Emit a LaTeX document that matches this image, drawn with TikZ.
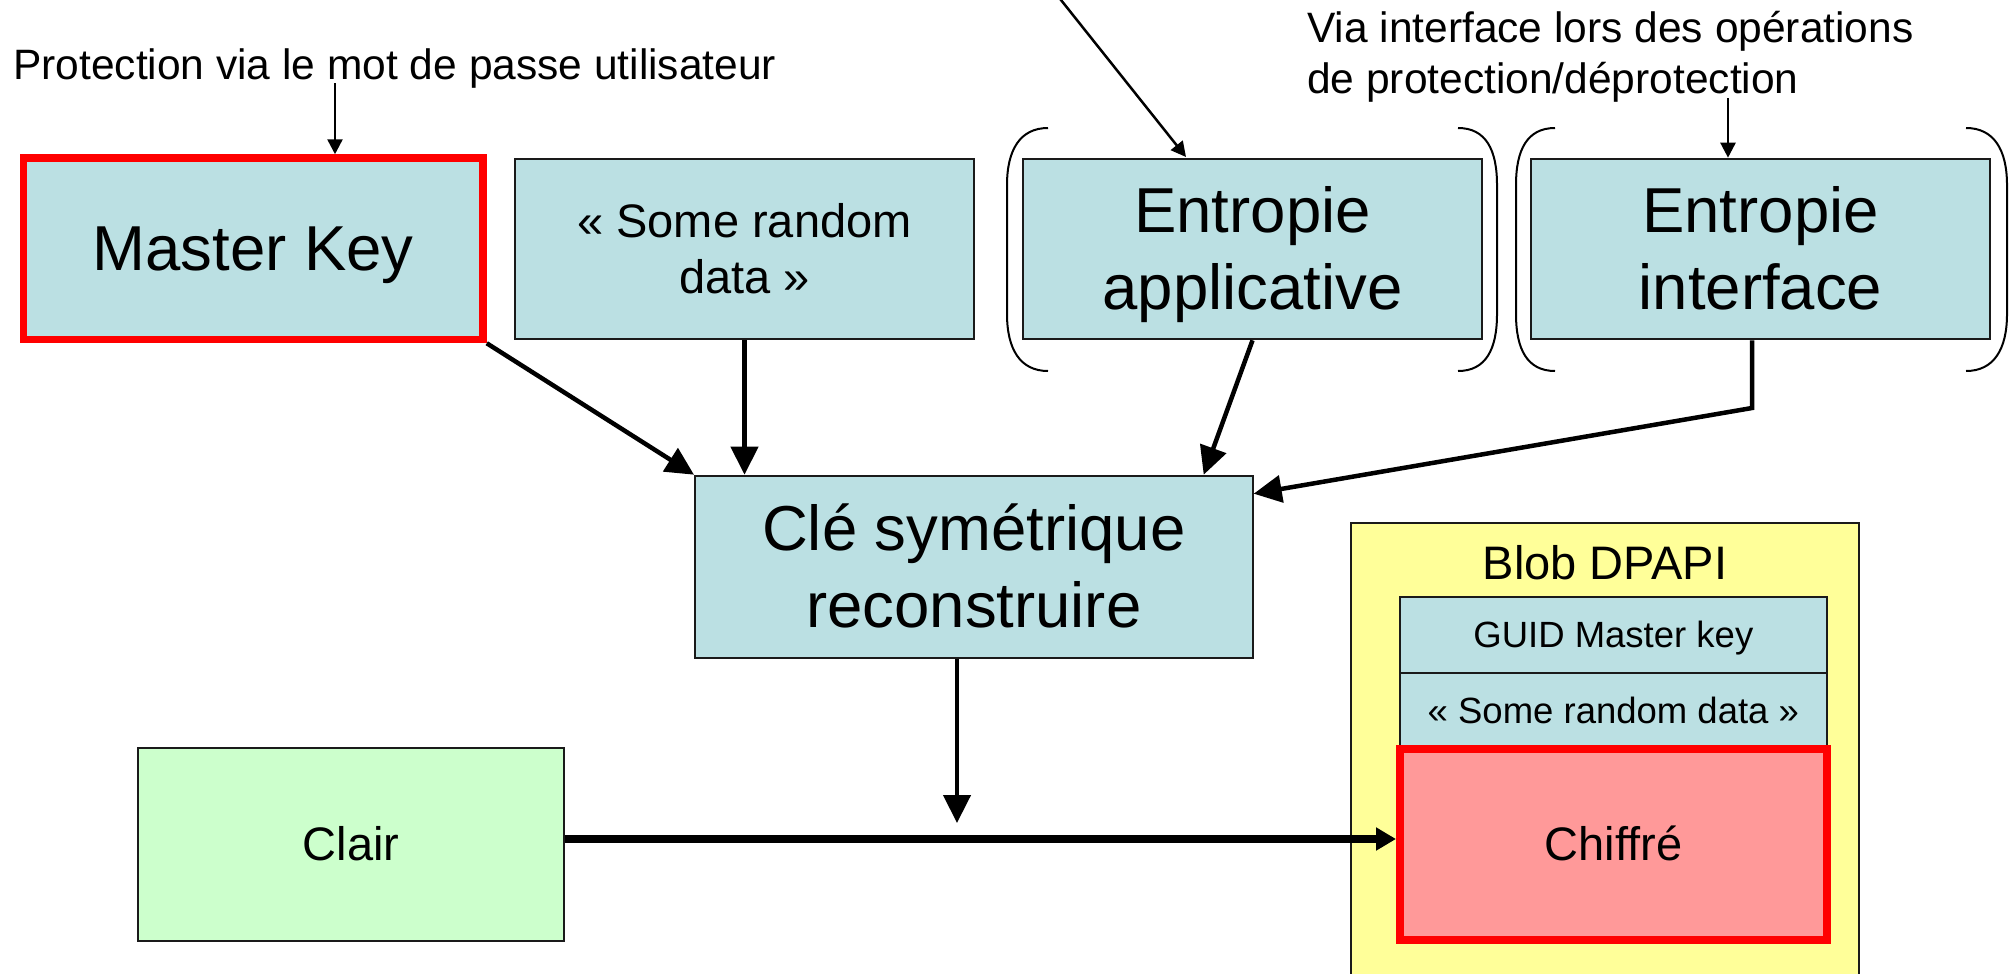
\documentclass[tikz,border=0pt]{standalone}
\usepackage{fontspec}
\setmainfont{Liberation Sans}
\usetikzlibrary{arrows.meta,calc}
\definecolor{boxblue}{HTML}{BBE0E3}
\definecolor{boxgreen}{HTML}{CCFFCC}
\definecolor{boxyellow}{HTML}{FFFF99}
\definecolor{boxpink}{HTML}{FF9999}
\definecolor{boxred}{HTML}{FF0000}
\definecolor{edge}{HTML}{1A1A1A}
\newcommand\mystrut{\rule[-0.212em]{0pt}{1.117em}}
\tikzset{
  plainbox/.style={draw=edge, line width=2pt, inner sep=0pt, align=center},
  bluebox/.style={plainbox, fill=boxblue},
  redbox/.style={draw=boxred, line width=8pt, inner sep=0pt, align=center},
  bigtxt/.style={font=\fontsize{63.5}{77}\selectfont},
  midtxt/.style={font=\fontsize{47}{56}\selectfont},
  smalltxt/.style={font=\fontsize{36.5}{44}\selectfont},
  labeltxt/.style={font=\fontsize{42.5}{50}\selectfont, inner sep=0pt, align=left},
  flow/.style={line width=4.5pt, -{Triangle[length=28pt,width=27pt]}},
  bigflow/.style={line width=8pt, -{Triangle[length=20pt,width=22pt]}},
  thinflow/.style={line width=2.5pt, -{Triangle[length=15pt,width=15pt]}},
  paren/.style={line width=2pt}
}
\begin{document}
\begin{tikzpicture}[x=1pt,y=-1pt]
\useasboundingbox[fill=white] (0,0) rectangle (2015,974);

% top labels
\node[labeltxt, anchor=base west] (lprot) at (13,79) {Protection via le mot de passe utilisateur};
\node[labeltxt, anchor=base west] (lvia) at (1307,43) {Via interface lors des opérations};
\node[labeltxt, anchor=base west] (lvia2) at (1307,93) {de protection/déprotection};

% top row
\node[bluebox, draw=boxred, line width=7.5pt, minimum width=459.5pt, minimum height=181.5pt, bigtxt] (mk) at (253.25,248.75) {\mystrut Master Key};
\node[bluebox, minimum width=459pt, minimum height=180.6pt, midtxt] (srd) at (744.5,249) {\mystrut« Some random\\\mystrut data »};
\node[bluebox, minimum width=459pt, minimum height=180.6pt, bigtxt] (ea) at (1252.5,249) {\mystrut Entropie\\\mystrut applicative};
\node[bluebox, minimum width=459pt, minimum height=180.6pt, bigtxt] (ei) at (1760.5,249) {\mystrut Entropie\\\mystrut interface};

% parentheses
\draw[paren] (1048,128) .. controls (1020,128) and (1007,150) .. (1007,185) -- (1007,314) .. controls (1007,349) and (1020,371) .. (1048,371);
\draw[paren] (1458,128) .. controls (1486,128) and (1497,150) .. (1497,185) -- (1497,314) .. controls (1497,349) and (1486,371) .. (1458,371);
\draw[paren] (1555,128) .. controls (1527,128) and (1516,150) .. (1516,185) -- (1516,314) .. controls (1516,349) and (1527,371) .. (1555,371);
\draw[paren] (1966,128) .. controls (1994,128) and (2007,150) .. (2007,185) -- (2007,314) .. controls (2007,349) and (1994,371) .. (1966,371);

% centre key
\node[bluebox, minimum width=557.7pt, minimum height=182pt, bigtxt] (cle) at (973.85,566.7) {\mystrut Clé symétrique\\\mystrut reconstruire};

% blob
\node[plainbox, fill=boxyellow, line width=2.5pt, minimum width=508pt, minimum height=480pt, anchor=north] (blob) at (1605,521.7) {};
\node[midtxt, inner sep=0pt] (blobt) at (1605,563) {\mystrut Blob DPAPI};
\node[bluebox, minimum width=426.7pt, minimum height=75.7pt, smalltxt] (guid) at (1613.35,634.85) {\mystrut GUID Master key};
\node[bluebox, minimum width=426.7pt, minimum height=76.3pt, smalltxt] (rd2) at (1613.35,710.85) {\mystrut« Some random data »};
\node[redbox, fill=boxpink, minimum width=426.7pt, minimum height=191pt, midtxt] (chif) at (1613.35,844.5) {\mystrut Chiffré};

% clair
\node[plainbox, fill=boxgreen, minimum width=426pt, minimum height=192.7pt, midtxt] (clair) at (351,844.4) {\mystrut Clair};

% thin arrows from labels
\draw[thinflow] (335,83) -- (mk.north -| 335,0);
\draw[thinflow] (1728,98) -- (ei.north -| 1728,0);
\coordinate (topin) at (1057,-5);
\draw[thinflow] (topin) -- (1186,157);

% thick arrows
\draw[flow] (mk.south east) -- (cle.north west);
\draw[flow] (srd.south) -- (srd.south |- cle.north);
\draw[flow] (ea.south) -- ($(cle.north east)+(-50,0)$);
\coordinate (eibend) at (1752,408);
\draw[flow] (ei.south -| eibend) -- (eibend) -- ($(cle.north east)+(0,19)$);
\coordinate (keyin) at (957,823);
\draw[flow] (cle.south -| keyin) -- (keyin);
\draw[bigflow] (clair.east |- 0,839) -- (chif.west |- 0,839);
\end{tikzpicture}
\end{document}
